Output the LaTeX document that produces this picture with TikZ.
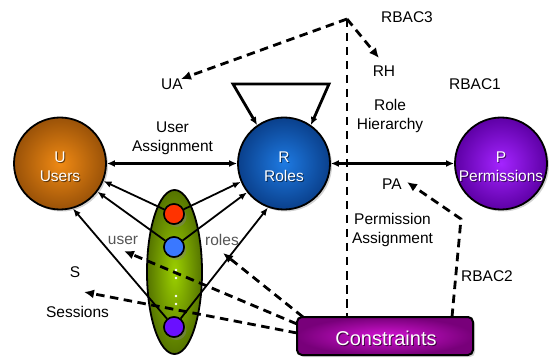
\documentclass[tikz,border=0pt]{standalone}
\usepackage{fontspec}
\setmainfont{Liberation Sans}
\usetikzlibrary{arrows.meta,shapes.geometric,shadows}

\definecolor{usrIn}{HTML}{F08A14}
\definecolor{usrOut}{HTML}{9A5208}
\definecolor{roleIn}{HTML}{1E7AE2}
\definecolor{roleOut}{HTML}{0A408C}
\definecolor{permIn}{HTML}{A424FF}
\definecolor{permOut}{HTML}{5E00A6}
\definecolor{consIn}{HTML}{D414D4}
\definecolor{consOut}{HTML}{78007A}
\definecolor{sessIn}{HTML}{9CD000}
\definecolor{sessOut}{HTML}{557400}
\definecolor{dotRed}{HTML}{FF3300}
\definecolor{dotBlue}{HTML}{3A78FF}
\definecolor{dotViolet}{HTML}{6A10FF}
\definecolor{softgray}{HTML}{555555}

\begin{document}
\begin{tikzpicture}[x=1pt,y=-1pt,
  txt/.style={font=\fontsize{15.5}{19}\selectfont, align=center, inner sep=0pt},
  graytxt/.style={txt, text=softgray},
  bigcircle/.style={circle, draw=black, line width=1.8pt, minimum size=92pt,
    inner sep=0pt, shading=radial,
    drop shadow={opacity=0.35, shadow xshift=2pt, shadow yshift=-2pt}},
  intxt/.style={txt, text=white},
  inshadow/.style={txt, text=black, opacity=0.55},
  smalldot/.style={circle, draw=black, line width=1.5pt, minimum size=20pt,
    inner sep=0pt, drop shadow={opacity=0.45, shadow xshift=2.5pt, shadow yshift=-3pt}},
  plaindot/.style={circle, draw=black, line width=1.5pt, minimum size=20pt, inner sep=0pt},
  solidarrow/.style={line width=1.8pt, -{Latex[length=8pt,width=6.5pt]}},
  dblarrow/.style={line width=2.6pt, {Latex[length=8pt,width=7pt]}-{Latex[length=8pt,width=7pt]}},
  dashline/.style={line width=2.8pt, dash pattern=on 8.5pt off 5.5pt},
  dasharrow/.style={dashline, -{Latex[length=10pt,width=9pt]}},
  whitedot/.style={circle, fill=white, inner sep=0pt, minimum size=2.6pt}
]
\useasboundingbox (0,0) rectangle (550,361);

% main entity circles
\node[bigcircle, inner color=usrIn, outer color=usrOut] (U) at (60,163.5) {};
\node[bigcircle, inner color=roleIn, outer color=roleOut] (R) at (284,163.5) {};
\node[bigcircle, inner color=permIn, outer color=permOut] (P) at (501,163.5) {};
\node[inshadow] (Ush) at (61,167.5) {U\\Users};
\node[intxt] (Ut) at (60,166.5) {U\\Users};
\node[inshadow] (Rsh) at (285,167.5) {R\\Roles};
\node[intxt] (Rt) at (284,166.5) {R\\Roles};
\node[inshadow] (Psh) at (502,167.5) {P\\Permissions};
\node[intxt] (Pt) at (501,166.5) {P\\Permissions};

% session ellipse
\node[ellipse, draw=black, line width=1.8pt, minimum width=55pt, minimum height=164pt,
  inner sep=0pt, shading=radial, inner color=sessIn, outer color=sessOut] (S) at (174.5,272) {};

% text labels
\node[txt] (rbac3) at (407,17) {RBAC3};
\node[txt] (ua) at (172,84) {UA};
\node[txt] (rh) at (384,71) {RH};
\node[txt] (rbac1) at (475,84) {RBAC1};
\node[txt] (ualbl) at (172.5,138.7) {User\\Assignment};
\node[txt] (rhlbl) at (390,115.5) {Role\\Hierarchy};
\node[txt] (pa) at (392,184.5) {PA};
\node[txt] (palbl) at (392.5,230) {Permission\\Assignment};
\node[txt] (rbac2) at (487,276) {RBAC2};
\node[graytxt] (userlbl) at (123,240) {user};
\node[graytxt] (roleslbl) at (222,240) {roles};
\node[txt] (slbl) at (75,272.5) {S};
\node[txt] (sesslbl) at (77.5,312) {Sessions};

% constraints box
\node[rectangle, rounded corners=5pt, draw=black, line width=2pt,
  minimum width=176pt, minimum height=38pt, inner sep=0pt,
  shading=radial, inner color=consIn, outer color=consOut,
  drop shadow={opacity=0.35, shadow xshift=2pt, shadow yshift=-2pt}] (cons) at (385,336) {};
\node[text=black, opacity=0.6, font=\fontsize{20}{24}\selectfont, inner sep=0pt] (conssh) at (387,339) {Constraints};
\node[text=white, font=\fontsize{20}{24}\selectfont, inner sep=0pt] (constxt) at (386,338) {Constraints};

% routing points
\coordinate (apex) at (347,19);
\coordinate (uaTip) at (181,79);
\coordinate (rhTip) at (379,58);
\coordinate (loopL) at (233,84);
\coordinate (loopR) at (329,84);
\coordinate (rb2a) at (452,317);
\coordinate (rb2b) at (461,219);
\coordinate (paTip) at (407,182);
\coordinate (userTip) at (124,251);
\coordinate (rolesTip) at (223,253);
\coordinate (sessTip) at (84,292);
\coordinate (consA) at (303,317);
\coordinate (consB) at (297,324);
\coordinate (consC) at (297,333);

% assignments between the main sets
\draw[dblarrow] (U) -- (R);
\draw[dblarrow] (R) -- (P);
\draw[dblarrow, line width=2.8pt] (R.125) -- (loopL) -- (loopR) -- (R.55);

% RBAC3 links
\draw[dasharrow] (apex) -- (uaTip);
\draw[dasharrow] (apex) -- (rhTip);
\draw[dashline] (apex) -- (apex |- cons.north);

% RBAC2 link
\draw[dasharrow] (rb2a) -- (rb2b) -- (paTip);

% session members
\node[smalldot, fill=dotRed] (c1) at (174,214) {};
\node[smalldot, fill=dotBlue] (c2) at (174,247) {};
\node[smalldot, fill=dotViolet] (c3) at (174,327) {};

\draw[solidarrow] (c1) -- (U.-22);
\draw[solidarrow] (c2) -- (U.-37);
\draw[solidarrow] (c3) -- (U.-74);
\draw[solidarrow] (c1) -- (R.-157);
\draw[solidarrow] (c2) -- (R.-142);
\draw[solidarrow] (c3) -- (R.-110);

% constraint links on sessions
\draw[dasharrow] (consA) -- (rolesTip);
\draw[dasharrow] (consB) -- (userTip);
\draw[dasharrow] (consC) -- (sessTip);

% member circles again, above the lines
\node[plaindot, fill=dotRed] (c1b) at (c1) {};
\node[plaindot, fill=dotBlue] (c2b) at (c2) {};
\node[plaindot, fill=dotViolet] (c3b) at (c3) {};

% ellipsis dots between members
\node[whitedot] (d1) at (176,270) {};
\node[whitedot] (d2) at (176,278) {};
\node[whitedot] (d3) at (176,296) {};
\node[whitedot] (d4) at (176,304) {};
\end{tikzpicture}
\end{document}
